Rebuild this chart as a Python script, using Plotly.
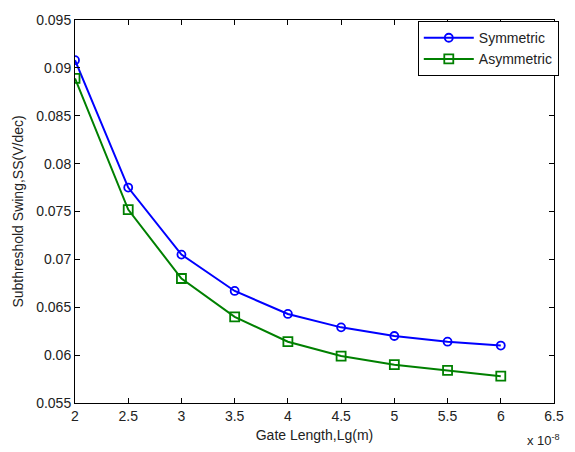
import plotly.graph_objects as go

gate_length = [2e-8, 2.5e-8, 3e-8, 3.5e-8, 4e-8, 4.5e-8, 5e-8, 5.5e-8, 6e-8]
ss_symmetric = [0.0908, 0.0775, 0.0705, 0.0667, 0.0643, 0.0629, 0.0620, 0.0614, 0.0610]
ss_asymmetric = [0.0889, 0.0752, 0.0680, 0.0640, 0.0614, 0.0599, 0.0590, 0.0584, 0.0578]

x_tickvals = [2e-8, 2.5e-8, 3e-8, 3.5e-8, 4e-8, 4.5e-8, 5e-8, 5.5e-8, 6e-8, 6.5e-8]
x_ticktext = ["2", "2.5", "3", "3.5", "4", "4.5", "5", "5.5", "6", "6.5"]
y_tickvals = [0.055, 0.06, 0.065, 0.07, 0.075, 0.08, 0.085, 0.09, 0.095]
y_ticktext = ["0.055", "0.06", "0.065", "0.07", "0.075", "0.08", "0.085", "0.09", "0.095"]

FONT = "Liberation Sans, Arial, sans-serif"

fig = go.Figure()
fig.add_trace(go.Scatter(
    x=gate_length, y=ss_symmetric, name="Symmetric", mode="lines+markers",
    line=dict(color="rgb(0,0,255)", width=2),
    marker=dict(symbol="circle-open", size=8, color="rgb(0,0,255)", line=dict(width=1.8)),
))
fig.add_trace(go.Scatter(
    x=gate_length, y=ss_asymmetric, name="Asymmetric", mode="lines+markers",
    line=dict(color="rgb(0,128,0)", width=2),
    marker=dict(symbol="square-open", size=9, color="rgb(0,128,0)", line=dict(width=1.8)),
))

axis_common = dict(
    showgrid=False, zeroline=False, showline=True, linecolor="black", linewidth=1,
    mirror="ticks", ticks="inside", ticklen=5, tickcolor="black",
    tickfont=dict(family=FONT, size=14, color="#222"),
)

fig.update_layout(
    width=575, height=452,
    margin=dict(l=75, r=11, t=20, b=46),
    paper_bgcolor="white", plot_bgcolor="white",
    font=dict(family=FONT, size=14, color="#222"),
    xaxis=dict(range=[2e-8, 6.5e-8], tickvals=x_tickvals, ticktext=x_ticktext,
               title=dict(text="Gate Length,Lg(m)", font=dict(size=14), standoff=7),
               **axis_common),
    yaxis=dict(range=[0.055, 0.095], tickvals=y_tickvals, ticktext=y_ticktext,
               title=dict(text="Subthreshold Swing,SS(V/dec)", font=dict(size=14), standoff=9),
               **axis_common),
    legend=dict(x=1.01, y=0.997, xanchor="right", yanchor="top",
                bgcolor="white", bordercolor="black", borderwidth=1,
                font=dict(family=FONT, size=14, color="#222"),
                tracegroupgap=0, itemwidth=50),
    showlegend=True,
)
fig.add_annotation(text="x 10<sup>-8</sup>", xref="paper", yref="paper",
                   x=0.94, y=-0.07, xanchor="left", yanchor="top",
                   showarrow=False, font=dict(family=FONT, size=13, color="#222"))

fig.write_html("out.html")
